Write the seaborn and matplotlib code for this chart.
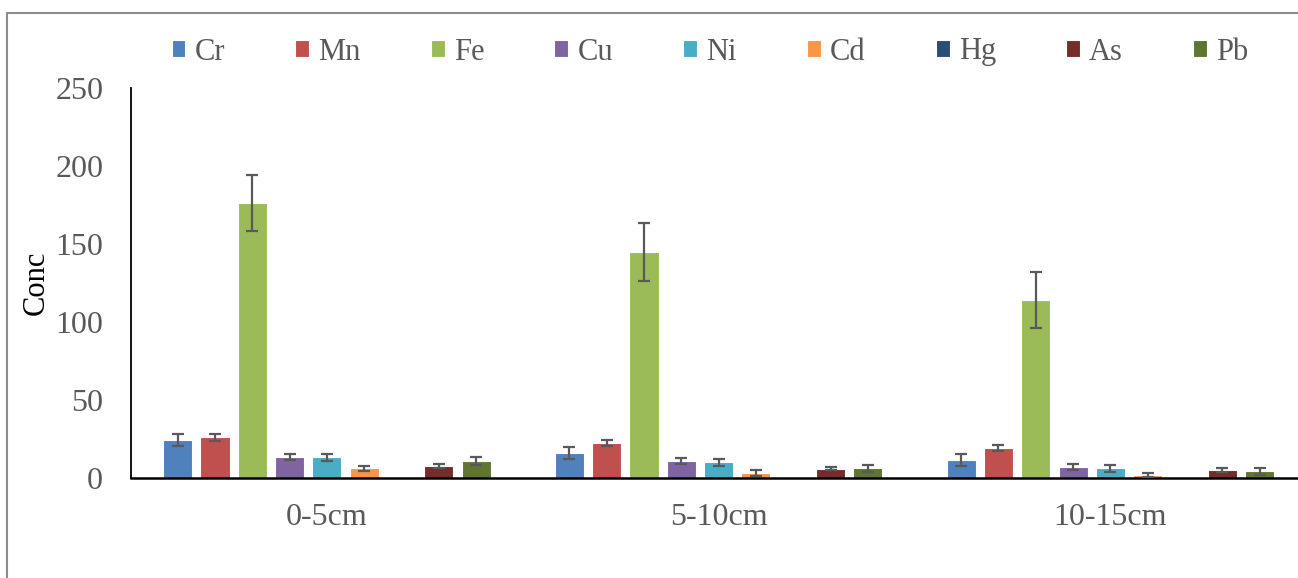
import pandas as pd
import matplotlib
matplotlib.use("Agg")
import matplotlib.pyplot as plt
import seaborn as sns
from matplotlib.patches import Rectangle

# values
depths = ["0-5cm", "5-10cm", "10-15cm"]
metals = ["Cr", "Mn", "Fe", "Cu", "Ni", "Cd", "Hg", "As", "Pb"]
colors = ["#4F81BD", "#C0504D", "#9BBB59", "#8064A2", "#4BACC6",
          "#F79646", "#2C4D75", "#772C2A", "#5F7530"]

cr = [24.2, 16.0, 11.5]
mn = [26.1, 22.4, 19.2]
fe = [176.3, 144.9, 114.1]
cu = [13.3, 10.9, 7.1]
ni = [13.3, 10.0, 6.2]
cd = [6.2, 3.2, 1.9]
hg = [0.3, 0.2, 0.2]
as_ = [7.7, 6.0, 5.1]
pb = [10.9, 6.2, 4.3]

cr_err = [3.8, 3.9, 4.1]
mn_err = [2.3, 2.2, 2.2]
fe_err = [18.0, 18.6, 18.0]
cu_err = [1.9, 2.1, 2.1]
ni_err = [2.3, 2.2, 2.3]
cd_err = [1.6, 1.7, 1.5]
hg_err = [0.0, 0.0, 0.0]
as_err = [1.0, 1.1, 1.1]
pb_err = [2.3, 2.3, 2.1]

values = [cr, mn, fe, cu, ni, cd, hg, as_, pb]
errors = [cr_err, mn_err, fe_err, cu_err, ni_err, cd_err, hg_err, as_err, pb_err]

rows = []
for m, vals, errs in zip(metals, values, errors):
    for d, v, e in zip(depths, vals, errs):
        rows.append({"Depth": d, "Metal": m, "Conc": v, "Err": e})
df = pd.DataFrame(rows)

sns.set_style("white")
plt.rcParams["font.family"] = ["Liberation Serif", "DejaVu Serif"]

fig = plt.figure(figsize=(12.98, 5.78), dpi=100)
ax = fig.add_axes([131 / 1298, 1 - 478 / 578, 3 * 391.75 / 1298, (478 - 88) / 578])

sns.barplot(data=df, x="Depth", y="Conc", hue="Metal", order=depths,
            hue_order=metals, palette=colors, saturation=1, width=0.857, gap=0.22,
            errorbar=None, edgecolor="white", linewidth=0.8, ax=ax)

# error bars, one container per metal
for cont, errs in zip(ax.containers, errors):
    for bar, e in zip(cont, errs):
        if e <= 0:
            continue
        ax.errorbar(bar.get_x() + bar.get_width() / 2, bar.get_height(), yerr=e,
                    fmt="none", ecolor="#595959", elinewidth=1.6, capsize=4.5,
                    capthick=1.6, zorder=5)

ax.set_xlim(-0.5, 2.5)
ax.set_ylim(0, 250)
ax.set_yticks(range(0, 251, 50))
ax.set_xlabel("")
ax.set_ylabel("Conc", fontsize=22, color="black", labelpad=3)
ax.tick_params(axis="y", length=0, pad=20, labelsize=23, labelcolor="#595959")
ax.tick_params(axis="x", length=0, pad=18, labelsize=23, labelcolor="#595959")
for s in ["top", "right"]:
    ax.spines[s].set_visible(False)
ax.spines["left"].set_color("black")
ax.spines["bottom"].set_color("black")
ax.spines["left"].set_linewidth(1.3)
ax.spines["bottom"].set_linewidth(1.8)

handles, labels = ax.get_legend_handles_labels()
ax.legend_.remove()
fig.legend(handles, labels, loc="center", bbox_to_anchor=(0.547, 1 - 52 / 578),
           ncol=9, frameon=False, fontsize=22, handlelength=0.45,
           handleheight=0.45, handletextpad=0.3, columnspacing=2.3,
           labelcolor="#595959")

# outer chart-area border
fig.patches.append(Rectangle((7 / 1298, -0.2), 1.2, 1.2 - 13 / 578,
                             transform=fig.transFigure, fill=False,
                             edgecolor="#8c8c8c", linewidth=1.5))

fig.savefig("out.png", dpi=100)
